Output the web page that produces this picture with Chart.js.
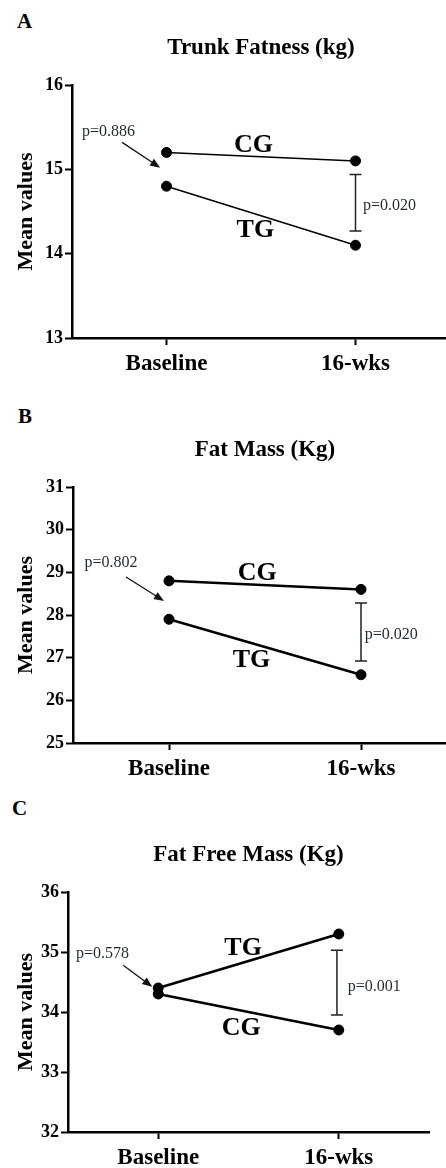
<!DOCTYPE html>
<html>
<head>
<meta charset="utf-8">
<script src="https://cdn.jsdelivr.net/npm/chart.js@4"></script>
<style>
  html, body { margin: 0; padding: 0; background: #fff; }
  body { width: 446px; height: 1168px; overflow: hidden; position: relative; }
  .panel { position: absolute; left: 0; }
  .letter { position: absolute; font: bold 21px "Liberation Serif", serif; line-height: 20px; color: #000; }
</style>
</head>
<body>
<div class="letter" style="left:17px;top:11px">A</div>
<div class="letter" style="left:18px;top:406px">B</div>
<div class="letter" style="left:12px;top:798px">C</div>
<div class="panel" style="top:0px;width:456px;height:383px"><canvas id="chartA"></canvas></div>
<div class="panel" style="top:395px;width:463px;height:393px"><canvas id="chartB"></canvas></div>
<div class="panel" style="top:790px;width:435px;height:378px"><canvas id="chartC"></canvas></div>
<script>
const categories = ["Baseline", "16-wks"];

// panel A - trunk fatness (kg)
const trunkCG = [15.2, 15.1];
const trunkTG = [14.8, 14.1];
const trunkTicks = [13, 16];

// panel B - fat mass (kg)
const fatCG = [28.8, 28.6];
const fatTG = [27.9, 26.6];
const fatTicks = [25, 31];

// panel C - fat free mass (kg)
const ffmTG = [34.4, 35.3];
const ffmCG = [34.3, 33.7];
const ffmTicks = [32, 36];

const serif = '"Liberation Serif", "Times New Roman", serif';
Chart.defaults.font.family = serif;
Chart.defaults.color = "#000";

// group names, p-value arrows and the error bar, all in data coordinates
const groupMarks = {
    id: "groupMarks",
    afterDatasetsDraw(chart, args, opts) {
        const ctx = chart.ctx;
        const x = chart.scales.x;
        const y = chart.scales.y;
        ctx.save();

        ctx.fillStyle = "#000";
        ctx.textAlign = "center";
        ctx.textBaseline = "middle";
        ctx.font = "bold 26px " + serif;
        opts.labels.forEach(l => {
            ctx.fillText(l.text, x.getPixelForValue(l.x), y.getPixelForValue(l.y));
        });

        ctx.font = "16px " + serif;
        ctx.fillStyle = "#1f2a2a";
        ctx.textAlign = "left";
        const b = opts.baseline;
        ctx.fillText(b.text, x.getPixelForValue(b.x), y.getPixelForValue(b.y));

        // arrow
        const x1 = x.getPixelForValue(b.from[0]), y1 = y.getPixelForValue(b.from[1]);
        const x2 = x.getPixelForValue(b.to[0]), y2 = y.getPixelForValue(b.to[1]);
        const ang = Math.atan2(y2 - y1, x2 - x1);
        ctx.strokeStyle = "#111";
        ctx.lineWidth = 1.3;
        ctx.beginPath();
        ctx.moveTo(x1, y1);
        ctx.lineTo(x2 - 6 * Math.cos(ang), y2 - 6 * Math.sin(ang));
        ctx.stroke();
        ctx.fillStyle = "#111";
        ctx.beginPath();
        ctx.moveTo(x2, y2);
        ctx.lineTo(x2 - 10 * Math.cos(ang) + 4 * Math.sin(ang), y2 - 10 * Math.sin(ang) - 4 * Math.cos(ang));
        ctx.lineTo(x2 - 10 * Math.cos(ang) - 4 * Math.sin(ang), y2 - 10 * Math.sin(ang) + 4 * Math.cos(ang));
        ctx.closePath();
        ctx.fill();

        // error bar between groups at 16 wks
        const e = opts.bar;
        const ex = x.getPixelForValue(e.x);
        const et = y.getPixelForValue(e.top), eb = y.getPixelForValue(e.bottom);
        ctx.strokeStyle = "#222";
        ctx.lineWidth = 1.5;
        ctx.beginPath();
        ctx.moveTo(ex, et); ctx.lineTo(ex, eb);
        ctx.moveTo(ex - 6, et); ctx.lineTo(ex + 6, et);
        ctx.moveTo(ex - 6, eb); ctx.lineTo(ex + 6, eb);
        ctx.stroke();
        ctx.fillStyle = "#1f2a2a";
        ctx.fillText(e.text, x.getPixelForValue(e.textX), y.getPixelForValue(e.textY));

        ctx.restore();
    }
};

function line(data, width) {
    return {
        data: data,
        borderColor: "#000",
        borderWidth: width,
        backgroundColor: "#000",
        pointRadius: 5,
        pointBorderWidth: 1,
        pointBackgroundColor: "#000",
        pointBorderColor: "#000",
        clip: false,
    };
}

function makePanel(id, p) {
    new Chart(document.getElementById(id), {
        type: "line",
        data: {
            labels: categories,
            datasets: p.datasets,
        },
        options: {
            responsive: true,
            maintainAspectRatio: false,
            animation: false,
            devicePixelRatio: 1,
            layout: { padding: 0 },
            plugins: {
                legend: { display: false },
                tooltip: { enabled: false },
                title: {
                    display: true,
                    text: p.title,
                    fullSize: false,
                    color: "#000",
                    font: { size: 23, weight: "bold" },
                    padding: { top: p.titleTop, bottom: 23.4 },
                },
                groupMarks: p.marks,
            },
            scales: {
                x: {
                    type: "category",
                    offset: true,
                    grid: { drawOnChartArea: false, offset: false, tickLength: 7, tickWidth: 2, tickColor: "#000" },
                    border: { color: "#000", width: 2.5 },
                    ticks: { color: "#000", padding: 5, maxRotation: 0, font: { size: 23, weight: "bold" } },
                    afterFit(s) { s.height = p.xHeight; },
                },
                y: {
                    min: p.ticks[0],
                    max: p.ticks[1],
                    grid: { drawOnChartArea: false, tickLength: 7, tickWidth: 2, tickColor: "#000" },
                    border: { color: "#000", width: 2.5 },
                    ticks: { stepSize: 1, color: "#000", padding: 2, font: { size: 18, weight: "bold" } },
                    title: {
                        display: true,
                        text: "Mean values",
                        color: "#000",
                        font: { size: 22, weight: "bold" },
                        padding: { top: 13, bottom: 0 },
                    },
                    afterFit(s) { s.width = p.yWidth; },
                },
            },
        },
        plugins: [groupMarks],
    });
}

makePanel("chartA", {
    title: "Trunk Fatness (kg)",
    titleTop: 34,
    xHeight: 45,
    yWidth: 72,
    ticks: trunkTicks,
    datasets: [line(trunkCG, 1.5), line(trunkTG, 1.5)],
    marks: {
        labels: [{ text: "CG", x: 0.46, y: 15.28 }, { text: "TG", x: 0.47, y: 14.28 }],
        baseline: { text: "p=0.886", x: -0.447, y: 15.44, from: [-0.235, 15.32], to: [-0.034, 15.02] },
        bar: { x: 1, top: 14.94, bottom: 14.27, text: "p=0.020", textX: 1.04, textY: 14.57 },
    },
});

makePanel("chartB", {
    title: "Fat Mass (Kg)",
    titleTop: 41,
    xHeight: 45,
    yWidth: 73,
    ticks: fatTicks,
    datasets: [line(fatCG, 2.5), line(fatTG, 2.5)],
    marks: {
        labels: [{ text: "CG", x: 0.46, y: 28.98 }, { text: "TG", x: 0.43, y: 26.95 }],
        baseline: { text: "p=0.802", x: -0.44, y: 29.22, from: [-0.224, 28.89], to: [-0.026, 28.33] },
        bar: { x: 1, top: 28.28, bottom: 26.92, text: "p=0.020", textX: 1.02, textY: 27.53 },
    },
});

makePanel("chartC", {
    title: "Fat Free Mass (Kg)",
    titleTop: 51,
    xHeight: 36,
    yWidth: 68,
    ticks: ffmTicks,
    datasets: [line(ffmTG, 2.5), line(ffmCG, 2.5)],
    marks: {
        labels: [{ text: "TG", x: 0.47, y: 35.07 }, { text: "CG", x: 0.46, y: 33.73 }],
        baseline: { text: "p=0.578", x: -0.456, y: 34.97, from: [-0.194, 34.78], to: [-0.033, 34.42] },
        bar: { x: 0.99, top: 35.03, bottom: 33.95, text: "p=0.001", textX: 1.05, textY: 34.42 },
    },
});
</script>
</body>
</html>
